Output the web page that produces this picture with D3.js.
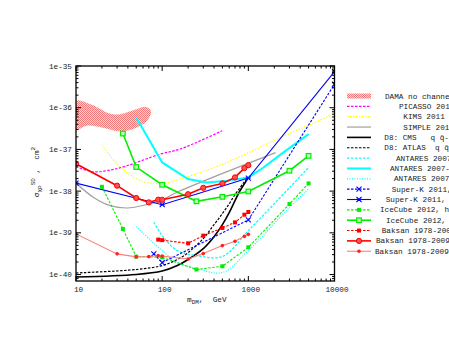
<!DOCTYPE html>
<html>
<head>
<meta charset="utf-8">
<script src="https://cdn.jsdelivr.net/npm/d3@7"></script>
<style>
  body { margin: 0; background: #fff; }
  text { font-family: "Liberation Mono", monospace; font-size: 7.7px; fill: #222; white-space: pre; }
</style>
</head>
<body>
<div id="chart"></div>
<script>
// values (mass in GeV, cross section in cm^2)
const damaUpperMass  = [10, 14.6, 25, 32.5, 51, 64, 74];
const damaUpperSigma = [1.46e-36, 1.23e-36, 7.2e-37, 7.0e-37, 9.3e-37, 1.05e-36, 8.4e-37];
const damaLowerMass  = [66.5, 46, 32.5, 20.6, 13.3, 10];
const damaLowerSigma = [4.8e-37, 3.1e-37, 2.7e-37, 3.3e-37, 3.7e-37, 2.95e-37];

const picassoMass  = [10, 16, 25, 39, 95, 162, 497];
const picassoSigma = [3.84e-38, 2.91e-38, 3.2e-38, 4.06e-38, 7.7e-38, 1.02e-37, 2.8e-37];

const kimsMass  = [20, 30, 51, 73, 109, 162, 514, 2370, 9770];
const kimsSigma = [1.27e-37, 4.45e-38, 1.95e-38, 1.56e-38, 1.56e-38, 1.95e-38, 4.5e-38, 1.93e-37, 7.0e-37];

const simpleMass  = [10, 16, 25, 39, 66, 95, 162, 2075];
const simpleSigma = [1.56e-38, 7.06e-39, 4.48e-39, 3.94e-39, 4.73e-39, 5.9e-39, 1.02e-38, 8.4e-38];

const d8Mass     = [10, 50, 100, 150, 200, 300, 400, 500, 600, 700, 800, 900, 1000];
const cmsSigma   = [8.7e-41, 1.0e-40, 1.21e-40, 1.64e-40, 2.3e-40, 4.2e-40, 8.1e-40, 1.57e-39, 3.04e-39, 5.9e-39, 1.02e-38, 1.5e-38, 2.1e-38];
const atlasSigma = [1.09e-40, 1.32e-40, 1.64e-40, 2.3e-40, 3.36e-40, 7.3e-40, 1.57e-39, 2.9e-39, 5.0e-39, 8.2e-39, 1.2e-38, 1.68e-38, 2.1e-38];

const antaresTauMass  = [80, 100, 150, 250, 500, 1000, 3000, 5000];
const antaresTauSigma = [1.8e-39, 8.6e-40, 3.75e-40, 2.85e-40, 2.7e-40, 1.13e-39, 1.2e-38, 3.69e-38];
const antaresWMass    = [50, 100, 200, 330, 570, 1000, 1500, 2400, 5000];
const antaresWSigma   = [5.8e-37, 4.87e-38, 1.95e-38, 1.61e-38, 1.77e-38, 2.13e-38, 3.69e-38, 7.7e-38, 2.32e-37];
const antaresBMass    = [50, 70, 100, 150, 250, 500, 1000, 3000, 5000];
const antaresBSigma   = [1.41e-39, 7.3e-40, 3.75e-40, 1.94e-40, 1.39e-40, 1.12e-40, 3.75e-40, 4.07e-39, 1.12e-38];

const superkHardMass  = [80, 100, 1000, 10000];
const superkHardSigma = [3.13e-40, 1.94e-40, 2.04e-39, 3.65e-36];
const superkSoftMass  = [10, 100, 1000, 10000];
const superkSoftSigma = [1.56e-38, 4.73e-39, 2.06e-38, 7.3e-36];

const icecubeHardMass  = [20, 35, 50, 100, 250, 500, 1000, 3000, 5000];
const icecubeHardSigma = [1.27e-38, 1.24e-39, 2.69e-40, 2.6e-40, 1.32e-40, 1.58e-40, 4.5e-40, 4.9e-39, 1.53e-38];
const icecubeSoftMass  = [35, 50, 100, 250, 500, 1000, 3000, 5000];
const icecubeSoftSigma = [2.4e-37, 3.78e-38, 1.42e-38, 5.7e-39, 7.3e-39, 9.8e-39, 3.08e-38, 7.0e-38];

const baksanTauMass  = [90, 100, 200, 300, 500, 700, 900, 1000];
const baksanTauSigma = [6.87e-40, 6.68e-40, 5.6e-40, 8.57e-40, 1.31e-39, 1.78e-39, 2.72e-39, 3.16e-39];
const baksanMass     = [10, 30, 50, 70, 90, 100, 200, 300, 500, 700, 900, 1000];
const baksanSoftSigma = [4.53e-38, 1.35e-38, 6.84e-39, 5.37e-39, 6.23e-39, 6.2e-39, 8.43e-39, 1.2e-38, 1.53e-38, 2.13e-38, 3.57e-38, 4.2e-38];
const baksanHardSigma = [9.4e-40, 3.13e-40, 2.65e-40, 2.69e-40, 2.85e-40, 2.77e-40, 2.35e-40, 3.18e-40, 4.94e-40, 6.27e-40, 8.24e-40, 9.2e-40];

const xTicks = [10, 100, 1000, 10000];
const yTicks = [1e-35, 1e-36, 1e-37, 1e-38, 1e-39, 1e-40];

const legendLabels = [
  "DAMA no channeling", "PICASSO 2012", "KIMS 2011", "SIMPLE 2012",
  "D8: CMS   q q\u0304->\u03c7\u03c7", "D8: ATLAS  q q\u0304->\u03c7\u03c7",
  "ANTARES 2007-2008, \u03c4\u03c4", "ANTARES 2007-2012, WW", "ANTARES 2007-2012, bb",
  "Super-K 2011, WW", "Super-K 2011, bb", "IceCube 2012, hard", "IceCube 2012, soft",
  "Baksan 1978-2009, \u03c4\u03c4", "Baksan 1978-2009, WW", "Baksan 1978-2009, bb"
];

const width = 449, height = 347;
const plot = {left: 76, right: 334.5, top: 66, bottom: 281};

const svg = d3.select("#chart").append("svg")
    .attr("width", width)
    .attr("height", height);

svg.append("rect").attr("width", width).attr("height", height).attr("fill", "#fff");

let defs = svg.append("defs");
let pat = defs.append("pattern")
    .attr("id", "hatch")
    .attr("width", 2).attr("height", 2)
    .attr("patternUnits", "userSpaceOnUse");
pat.append("rect").attr("width", 2).attr("height", 2).attr("fill", "#ffd2d2");
pat.append("rect").attr("width", 1).attr("height", 1).attr("fill", "#f27a7a");
pat.append("rect").attr("x", 1).attr("y", 1).attr("width", 1).attr("height", 1).attr("fill", "#f27a7a");

defs.append("clipPath").attr("id", "plotclip")
  .append("rect")
    .attr("x", plot.left).attr("y", plot.top)
    .attr("width", plot.right - plot.left).attr("height", plot.bottom - plot.top);

let x = d3.scaleLog().domain([10, 10000]).range([plot.left, plot.right]);
let y = d3.scaleLog().domain([7e-41, 1e-35]).range([plot.bottom, plot.top]);

function pts(ms, ss) { return ms.map((m, i) => [m, ss[i]]); }

let smooth = d3.line().x(d => x(d[0])).y(d => y(d[1])).curve(d3.curveCatmullRom.alpha(0.5));
let straight = d3.line().x(d => x(d[0])).y(d => y(d[1]));

// series in the order of the key
const series = [
  {data: pts(picassoMass, picassoSigma), color: "#ff00ff", w: 1.2, dash: "2.5,1.5", curve: smooth},
  {data: pts(kimsMass, kimsSigma), color: "#ffff00", w: 1.2, dash: "1.5,1.5", curve: smooth},
  {data: pts(simpleMass, simpleSigma), color: "#a0a0a0", w: 1.2, dash: null, curve: smooth},
  {data: pts(d8Mass, cmsSigma), color: "#000", w: 1.6, dash: null, curve: smooth},
  {data: pts(d8Mass, atlasSigma), color: "#000", w: 1.2, dash: "2.5,1.5", curve: smooth},
  {data: pts(antaresTauMass, antaresTauSigma), color: "#00ffff", w: 1.3, dash: "2.5,1.5", curve: smooth},
  {data: pts(antaresWMass, antaresWSigma), color: "#00ffff", w: 2, dash: null, curve: straight},
  {data: pts(antaresBMass, antaresBSigma), color: "#00ffff", w: 1.2, dash: "1,1.5", curve: smooth},
  {data: pts(superkHardMass, superkHardSigma), color: "#0000ff", w: 1.1, dash: "2.5,1.5", curve: straight, marker: "plus"},
  {data: pts(superkSoftMass, superkSoftSigma), color: "#0000ff", w: 1.1, dash: null, curve: straight, marker: "cross"},
  {data: pts(icecubeHardMass, icecubeHardSigma), color: "#00ee00", w: 1.1, dash: "2.5,1.5", curve: straight, marker: "square"},
  {data: pts(icecubeSoftMass, icecubeSoftSigma), color: "#00ee00", w: 1.6, dash: null, curve: straight, marker: "opensquare"},
  {data: pts(baksanTauMass, baksanTauSigma), color: "#ff0000", w: 1.1, dash: "2.5,1.5", curve: straight, marker: "square"},
  {data: pts(baksanMass, baksanSoftSigma), color: "#ff0000", w: 1.6, dash: null, curve: straight, marker: "circle"},
  {data: pts(baksanMass, baksanHardSigma), color: "#ff8080", w: 1.1, dash: null, curve: straight, marker: "smallcircle"}
];

function drawMarker(g, kind, cx, cy, color) {
  if (kind === "plus" || kind === "cross") {
    let s = 2.5;
    g.append("path")
      .attr("d", `M${cx-s},${cy-s}L${cx+s},${cy+s}M${cx-s},${cy+s}L${cx+s},${cy-s}` +
                 (kind === "cross" ? `M${cx-s},${cy}L${cx+s},${cy}` : ""))
      .attr("stroke", color).attr("stroke-width", 1.1).attr("fill", "none");
  } else if (kind === "square") {
    g.append("rect").attr("x", cx - 2).attr("y", cy - 2).attr("width", 4).attr("height", 4)
      .attr("fill", color);
  } else if (kind === "opensquare") {
    g.append("rect").attr("x", cx - 2.3).attr("y", cy - 2.3).attr("width", 4.6).attr("height", 4.6)
      .attr("fill", "#b8ffb8").attr("stroke", color).attr("stroke-width", 1.2);
  } else if (kind === "circle") {
    g.append("circle").attr("cx", cx).attr("cy", cy).attr("r", 2.6)
      .attr("fill", "#ff5050").attr("stroke", color).attr("stroke-width", 1);
  } else if (kind === "smallcircle") {
    g.append("circle").attr("cx", cx).attr("cy", cy).attr("r", 1.8).attr("fill", "#ff2020");
  }
}

let plotArea = svg.append("g").attr("clip-path", "url(#plotclip)");

// DAMA region
let damaContour = pts(damaUpperMass, damaUpperSigma).concat(pts(damaLowerMass, damaLowerSigma));
plotArea.append("path")
    .attr("d", d3.line().x(d => x(d[0])).y(d => y(d[1])).curve(d3.curveCatmullRomClosed.alpha(0.5))(damaContour))
    .attr("fill", "url(#hatch)")
    .attr("stroke", "none");

series.forEach(function(s) {
  plotArea.append("path")
      .attr("d", s.curve(s.data))
      .attr("fill", "none")
      .attr("stroke", s.color)
      .attr("stroke-width", s.w)
      .attr("stroke-dasharray", s.dash);
  if (s.marker) {
    s.data.forEach(d => drawMarker(plotArea, s.marker, x(d[0]), y(d[1]), s.color));
  }
});

// frame and ticks (mirrored on all sides)
let axes = svg.append("g").attr("stroke", "#000").attr("stroke-width", 1);
axes.append("rect")
    .attr("x", plot.left).attr("y", plot.top)
    .attr("width", plot.right - plot.left).attr("height", plot.bottom - plot.top)
    .attr("fill", "none").attr("stroke-width", 1.3);

let xMinor = [];
for (let dec = 10; dec < 10000; dec *= 10) for (let k = 2; k <= 9; k++) xMinor.push(dec * k);
let yMinor = [];
for (let e = -41; e < -35; e++) for (let k = 2; k <= 9; k++) {
  let v = k * Math.pow(10, e);
  if (v > 7e-41 && v < 1e-35) yMinor.push(v);
}

xTicks.concat(xMinor).forEach(function(v) {
  let len = xTicks.includes(v) ? 5 : 2.5;
  let px = x(v);
  axes.append("line").attr("x1", px).attr("x2", px).attr("y1", plot.bottom).attr("y2", plot.bottom - len);
  axes.append("line").attr("x1", px).attr("x2", px).attr("y1", plot.top).attr("y2", plot.top + len);
});
yTicks.concat(yMinor).forEach(function(v) {
  let len = yTicks.includes(v) ? 5 : 2.5;
  let py = y(v);
  axes.append("line").attr("x1", plot.left).attr("x2", plot.left + len).attr("y1", py).attr("y2", py);
  axes.append("line").attr("x1", plot.right).attr("x2", plot.right - len).attr("y1", py).attr("y2", py);
});

svg.selectAll(".xlab").data(xTicks).enter().append("text")
    .attr("x", d => x(d) + 2.5)
    .attr("y", 292)
    .style("text-anchor", "middle")
    .text(d => d3.format("d")(d));

svg.selectAll(".ylab").data(yTicks).enter().append("text")
    .attr("x", 72)
    .attr("y", d => y(d) + 2.5)
    .style("text-anchor", "end")
    .text(d => "1e" + Math.round(Math.log10(d)));

// axis titles
let xt = svg.append("text").attr("x", 187).attr("y", 302);
xt.append("tspan").text("m");
xt.append("tspan").attr("dy", 2).style("font-size", "6px").text("DM");
xt.append("tspan").attr("dy", -2).text(",  GeV");

let yt = svg.append("text")
    .attr("transform", "translate(39,172) rotate(-90)")
    .style("text-anchor", "middle");
yt.append("tspan").text("\u03c3");
yt.append("tspan").attr("dy", 2).style("font-size", "6px").text("\u03c7p");
yt.append("tspan").attr("dy", -6).style("font-size", "6px").text("SD");
yt.append("tspan").attr("dy", 4).text(" ,  cm");
yt.append("tspan").attr("dy", -4).style("font-size", "6px").text("2");

// key
const legendStartX = [385, 399, 403.3, 403.3, 384.3, 384.3, 396, 390, 394, 391.7, 385.7, 380, 386, 381.7, 376, 375];
let key = svg.append("g");
legendLabels.forEach(function(label, i) {
  let ly = 96 + i * 10.35;
  if (i === 0) {
    key.append("rect").attr("x", 347).attr("y", ly - 2.5).attr("width", 24).attr("height", 5)
      .attr("fill", "url(#hatch)");
  } else {
    let s = series[i - 1];
    key.append("line").attr("x1", 347).attr("x2", 371).attr("y1", ly).attr("y2", ly)
      .attr("stroke", s.color).attr("stroke-width", s.w).attr("stroke-dasharray", s.dash);
    if (s.marker) drawMarker(key, s.marker, 359, ly, s.color);
  }
  key.append("text").attr("x", legendStartX[i]).attr("y", ly + 2.5).text(label);
});
</script>
</body>
</html>
